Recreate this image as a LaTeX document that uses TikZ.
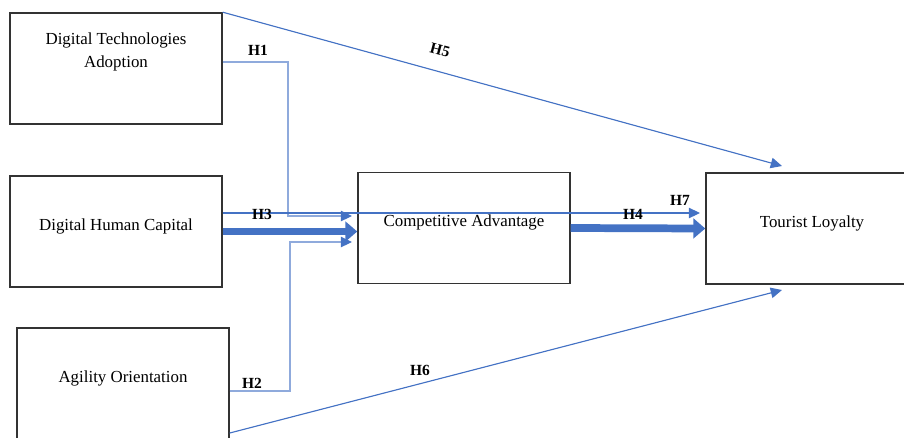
\documentclass[tikz,border=0pt]{standalone}
\usepackage{fontspec}
\setmainfont{Liberation Serif}
\usetikzlibrary{arrows.meta}

\definecolor{linkblue}{HTML}{4472C4}
\definecolor{paleblue}{HTML}{8FAADC}

\begin{document}
\begin{tikzpicture}[x=0.025cm,y=-0.025cm,
	factor/.style={draw=black!80,line width=1pt,minimum width=5.3cm,minimum height=2.78cm,
		font=\fontsize{12}{16}\selectfont,align=center,text height=8pt,text depth=10pt},
	link/.style={draw=linkblue,fill=linkblue,line width=0.8pt,-{Triangle[length=8pt,width=7.5pt]}},
	palelink/.style={draw=paleblue,line width=0.8pt,-{Triangle[length=8pt,width=7.5pt]},
		arrows={-{Triangle[length=8pt,width=7.5pt,color=linkblue]}}},
	bigarrow/.style={draw=linkblue,fill=linkblue,line width=5.5pt,-{Triangle[length=8.5pt,width=14pt]}},
	hyp/.style={font=\fontsize{11}{13}\selectfont\bfseries}]
	
	\useasboundingbox (0,0) rectangle (904,437);
	
	% constructs
	\node[factor] (dta) at (116,68.5) {Digital Technologies\\Adoption};
	\node[factor] (dhc) at (116,231.5) {Digital Human Capital};
	\node[factor] (ao) at (123,383.5) {Agility Orientation};
	\node[factor] (ca) at (464,228) {Competitive Advantage};
	\node[factor] (tl) at (812,228.5) {Tourist Loyalty};
	
	% bends and free ends
	\coordinate (h1a) at (288,62);
	\coordinate (h1b) at (352,216);
	\coordinate (h2a) at (290,391);
	\coordinate (h2b) at (352,242);
	\coordinate (h5end) at (782,166);
	\coordinate (h6a) at (230,433);
	\coordinate (h6end) at (782,290);
	\coordinate (h7end) at (700,213);
	
	% paths
	\draw [link] (dta.north east) -- (h5end);
	\draw [palelink] (dta.east |- h1a) -- (h1a) |- (h1b);
	\draw [link] (dhc.east |- h7end) -- (h7end);
	\draw [bigarrow] (dhc.east) -- (ca.west |- dhc.east);
	\draw [palelink] (ao.east |- h2a) -- (h2a) |- (h2b);
	\draw [bigarrow] (ca.east) -- (tl.west);
	\draw [link] (ao.east |- h6a) -- (h6end);
	
	% hypotheses
	\node[hyp] (l1) at (258,50) {H1};
	\node[hyp] (l2) at (252,383) {H2};
	\node[hyp] (l3) at (262,214) {H3};
	\node[hyp] (l4) at (633,214) {H4};
	\node[hyp,rotate=-15] (l5) at (440,50) {H5};
	\node[hyp] (l6) at (420,370) {H6};
	\node[hyp] (l7) at (680,200) {H7};
	
\end{tikzpicture}
\end{document}
